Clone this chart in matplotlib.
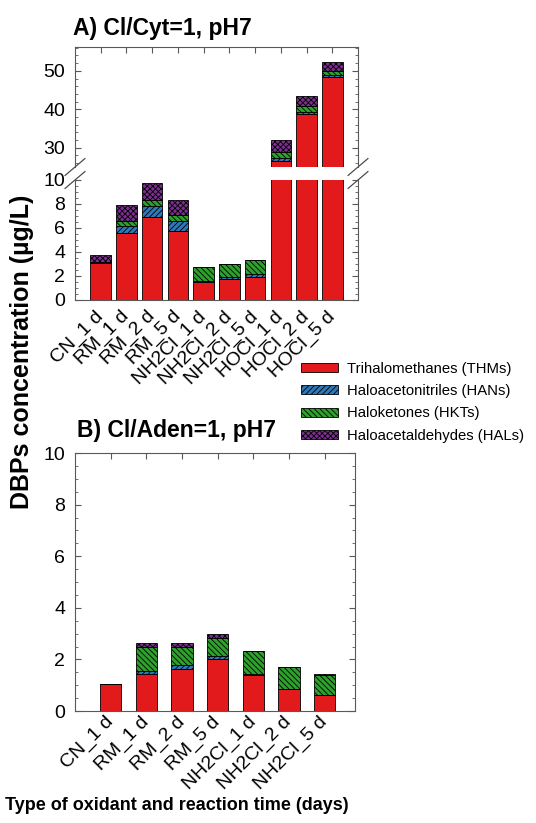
import numpy as np
import matplotlib
matplotlib.use("Agg")
import matplotlib.pyplot as plt
from matplotlib.ticker import MultipleLocator
from matplotlib.patches import Patch

plt.rcParams['font.family'] = ['Liberation Sans', 'DejaVu Sans']
plt.rcParams['hatch.linewidth'] = 0.6

# Panel A: Cl/Cyt = 1, pH 7  (ug/L)
labels_a = ['CN_1 d', 'RM_1 d', 'RM_2 d', 'RM_5 d', 'NH2Cl_1 d', 'NH2Cl_2 d',
            'NH2Cl_5 d', 'HOCl_1 d', 'HOCl_2 d', 'HOCl_5 d']
thm_a = [3.1, 5.55, 6.95, 5.75, 1.5, 1.75, 1.9, 26.6, 38.8, 48.4]
han_a = [0.05, 0.6, 0.85, 0.85, 0.12, 0.2, 0.25, 0.8, 0.6, 0.5]
hkt_a = [0.0, 0.45, 0.5, 0.45, 1.15, 1.05, 1.15, 1.6, 1.55, 1.0]
hal_a = [0.62, 1.35, 1.45, 1.25, 0.02, 0.03, 0.05, 3.0, 2.5, 2.5]

# Panel B: Cl/Aden = 1, pH 7
labels_b = ['CN_1 d', 'RM_1 d', 'RM_2 d', 'RM_5 d', 'NH2Cl_1 d', 'NH2Cl_2 d', 'NH2Cl_5 d']
thm_b = [1.04, 1.43, 1.61, 2.0, 1.40, 0.87, 0.62]
han_b = [0.0, 0.13, 0.16, 0.13, 0.02, 0.0, 0.0]
hkt_b = [0.0, 0.93, 0.72, 0.71, 0.90, 0.84, 0.78]
hal_b = [0.0, 0.16, 0.15, 0.15, 0.02, 0.01, 0.02]

groups = ['Trihalomethanes (THMs)', 'Haloacetonitriles (HANs)',
          'Haloketones (HKTs)', 'Haloacetaldehydes (HALs)']
colors = ['#e31a1c', '#2f78b8', '#2ea02c', '#7b2f8e']
hatches = ['', '//////', '\\\\\\\\\\\\', 'xxxxxx']

TICK_FS = 14


def stack(ax, series, width):
    x = np.arange(len(series[0]))
    bottom = np.zeros(len(x))
    for vals, c, h in zip(series, colors, hatches):
        vals = np.asarray(vals)
        ax.bar(x, vals, width, bottom=bottom, color=c, hatch=h,
               edgecolor='black', linewidth=0.6)
        bottom += vals
    return x


def style(ax, xpad=6):
    for s in ax.spines.values():
        s.set_color('0.35')
        s.set_linewidth(0.8)
    ax.tick_params(axis='y', which='both', direction='in', left=True, right=True,
                   labelsize=TICK_FS, color='0.35', pad=7)
    ax.tick_params(axis='y', which='major', length=4)
    ax.tick_params(axis='y', which='minor', length=2)
    ax.tick_params(axis='x', which='both', direction='in', top=True, bottom=False,
                   labelsize=TICK_FS, color='0.35', length=4, pad=xpad)


W, H = 536, 823
fig = plt.figure(figsize=(W / 100, H / 100), dpi=100)

left = 75 / W
ax_up = fig.add_axes([left, 1 - 167 / H, 283 / W, 120 / H])
ax_lo = fig.add_axes([left, 1 - 300 / H, 283 / W, 120 / H])
ax_b = fig.add_axes([left, 1 - 711 / H, 280 / W, 258 / H])

series_a = [thm_a, han_a, hkt_a, hal_a]
for ax in (ax_up, ax_lo):
    x_a = stack(ax, series_a, 0.8)
    ax.set_xlim(-1, 10)
    style(ax, xpad=10)

ax_up.set_ylim(25, 56.2)
ax_up.yaxis.set_major_locator(MultipleLocator(10))
ax_up.yaxis.set_minor_locator(MultipleLocator(2))
ax_up.spines['bottom'].set_visible(False)
ax_up.set_xticks(x_a)
ax_up.tick_params(axis='x', labeltop=False, labelbottom=False)

ax_lo.set_ylim(0, 10)
ax_lo.yaxis.set_major_locator(MultipleLocator(2))
ax_lo.yaxis.set_minor_locator(MultipleLocator(0.5))
ax_lo.spines['top'].set_visible(False)
ax_lo.set_xticks(x_a)
ax_lo.tick_params(axis='x', top=False)
ax_lo.set_xticklabels(labels_a, rotation=45, ha='right', va='center',
                      rotation_mode='anchor')

# axis break marks
for ax, yy in ((ax_up, 0.0), (ax_lo, 1.0)):
    for xx in (0.0, 1.0):
        ax.plot([xx - 0.035, xx + 0.035], [yy - 0.07, yy + 0.07], transform=ax.transAxes,
                color='0.3', lw=0.9, clip_on=False)

series_b = [thm_b, han_b, hkt_b, hal_b]
x_b = stack(ax_b, series_b, 0.6)
ax_b.set_xlim(-1, 6.85)
ax_b.set_ylim(0, 10)
ax_b.yaxis.set_major_locator(MultipleLocator(2))
ax_b.yaxis.set_minor_locator(MultipleLocator(0.5))
style(ax_b, xpad=6)
ax_b.set_xticks(x_b)
ax_b.set_xticklabels(labels_b, rotation=45, ha='right', va='center',
                     rotation_mode='anchor')

fig.text(73 / W, 1 - 35 / H, 'A) Cl/Cyt=1, pH7', fontsize=16.5, fontweight='bold',
         va='baseline', ha='left')
fig.text(77 / W, 1 - 437 / H, 'B) Cl/Aden=1, pH7', fontsize=16.5, fontweight='bold',
         va='baseline', ha='left')
fig.text(22 / W, 1 - 352 / H, 'DBPs concentration (µg/L)', fontsize=18,
         fontweight='bold', rotation=90, ha='center', va='center')
fig.text(5 / W, 1 - 810 / H, 'Type of oxidant and reaction time (days)', fontsize=13,
         fontweight='bold', ha='left', va='baseline')

handles = [Patch(facecolor=c, hatch=h, edgecolor='black', linewidth=0.6)
           for c, h in zip(colors, hatches)]
fig.legend(handles, groups, loc='upper left', bbox_to_anchor=(301 / W, 1 - 362 / H),
           frameon=False, fontsize=10.7, handlelength=2.5, handleheight=0.55,
           handletextpad=0.6, labelspacing=0.55, borderaxespad=0, borderpad=0)

fig.savefig('out.png', dpi=100)
